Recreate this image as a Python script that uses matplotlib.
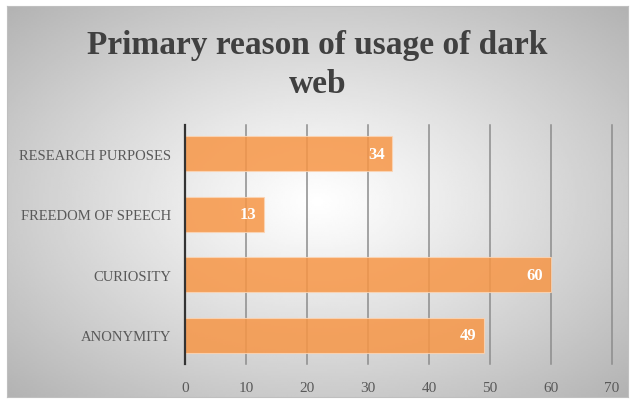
import numpy as np
import matplotlib.pyplot as plt

# data
categories = ['ANONYMITY', 'CURIOSITY', 'FREEDOM OF SPEECH', 'RESEARCH PURPOSES']
values = [49, 60, 13, 34]
xticks = [0, 10, 20, 30, 40, 50, 60, 70]

W, H = 635, 406
fig = plt.figure(figsize=(W / 100, H / 100), dpi=100)
fig.patch.set_facecolor('white')

# radial gradient background inside the chart border
bg = fig.add_axes([7 / W, 8 / H, 621 / W, 391 / H])
yy, xx = np.mgrid[-1:1:200j, -1:1:300j]
r = np.sqrt(xx ** 2 + yy ** 2) / np.sqrt(2)
shade = 1.0 - 0.3 * r ** 1.1
bg.imshow(shade, cmap='gray', vmin=0, vmax=1, aspect='auto', extent=[0, 1, 0, 1])
bg.set_xticks([])
bg.set_yticks([])
for s in bg.spines.values():
    s.set_color('#bfbfbf')
    s.set_linewidth(0.8)

ax = fig.add_axes([185 / W, (H - 365) / H, (612 - 185) / W, (365 - 126) / H])
ax.patch.set_alpha(0)

y = np.arange(len(categories))
ax.barh(y, values, height=0.58, color='#F79646', alpha=0.85,
        edgecolor='#fbd5b5', linewidth=0.8, zorder=3)

for yi, v in zip(y, values):
    ax.text(v - 1.3, yi, str(v), ha='right', va='center', color='white',
            fontsize=12, fontweight='bold', family='Liberation Serif', zorder=4)

ax.set_xlim(0, 70)
ax.set_ylim(-0.48, 3.48)
ax.set_xticks(xticks)
ax.set_yticks(y)
ax.set_yticklabels(categories)
ax.tick_params(axis='y', length=0, pad=10, labelsize=10.5, labelcolor='#595959')
ax.tick_params(axis='x', length=0, pad=12, labelsize=11, labelcolor='#595959')
for lab in ax.get_xticklabels() + ax.get_yticklabels():
    lab.set_family('Liberation Serif')
ax.grid(axis='x', color='#8c8c8c', linewidth=1.1, zorder=0)
for gl in ax.get_xgridlines():
    gl.set_clip_on(False)
ax.set_axisbelow(True)
for side in ['top', 'right', 'bottom']:
    ax.spines[side].set_visible(False)
ax.spines['left'].set_color('#333333')
ax.spines['left'].set_linewidth(1.6)
ax.spines['left'].set_zorder(5)

fig.text(0.5, (H - 65) / H, 'Primary reason of usage of dark\nweb', ha='center',
         va='center', fontsize=24, fontweight='bold', color='#404040',
         family='Liberation Serif', linespacing=1.3)

fig.savefig('out.png', dpi=100)
